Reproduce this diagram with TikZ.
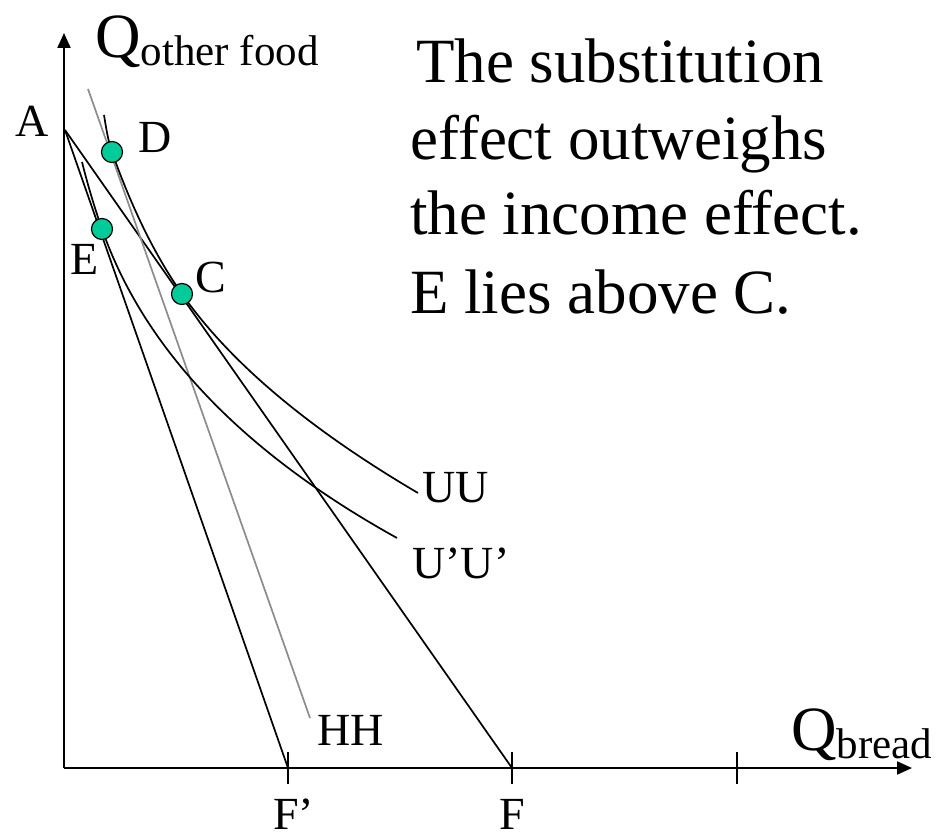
\documentclass[tikz,border=0pt]{standalone}
\usepackage{fontspec}
\setmainfont{Liberation Serif}
\usetikzlibrary{arrows.meta}
\definecolor{ptgreen}{RGB}{0,204,153}
\definecolor{hhgray}{RGB}{140,140,140}
\tikzset{
  axisline/.style={line width=2pt,-{Triangle[length=15pt,width=13pt]}},
  tickline/.style={line width=2pt},
  budget/.style={line width=1.7pt},
  compline/.style={line width=1.7pt,draw=hhgray},
  icurve/.style={line width=1.7pt},
  ptdot/.style={circle,fill=ptgreen,draw=black,line width=1.2pt,minimum size=21pt,inner sep=0pt},
  lbl/.style={font=\fontsize{46}{50}\selectfont,inner sep=0pt,anchor=base},
  bigtext/.style={font=\fontsize{63}{70}\selectfont,inner sep=0pt,anchor=base west},
}
\newcommand{\subtxt}[1]{\raisebox{-8pt}{\fontsize{43}{46}\selectfont #1}}
\begin{document}
\begin{tikzpicture}[x=1pt,y=-1pt]
\useasboundingbox (0,0) rectangle (942,834);
% coordinates
\coordinate (O) at (64,768);
\coordinate (Ytip) at (64,33);
\coordinate (Xtip) at (912,768);
\coordinate (A) at (65,130);
\coordinate (F) at (512,768);
\coordinate (Fp) at (288,768);
\coordinate (T3) at (737,768);
\coordinate (H1) at (88,89);
\coordinate (H2) at (310,718);
\coordinate (D) at (112,152);
\coordinate (C) at (182,294);
\coordinate (E) at (102,229);
\coordinate (U1s) at (104,115);
\coordinate (U1e) at (418,493);
\coordinate (U2s) at (82,162);
\coordinate (U2e) at (397,538);
% axes
\draw[axisline] (O) -- (Ytip);
\draw[axisline] (O) -- (Xtip);
\foreach \t in {Fp,F,T3}{
  \draw[tickline] ([yshift=-16pt]\t) -- ([yshift=16pt]\t);
}
% budget lines
\draw[budget] (A) -- (F);
\draw[budget] (A) -- (Fp);
% compensated budget line
\draw[compline] (H1) -- (H2);
% indifference curves
\draw[icurve] (U1s) .. controls (106,127) and (107.8,140) .. (D)
  .. controls (131.9,208.5) and (155.3,255.8) .. (C)
  .. controls (230.2,362.9) and (309.5,429.2) .. (U1e);
\draw[icurve] (U2s) .. controls (87.5,184) and (94.3,207) .. (E)
  .. controls (144.8,351.3) and (245,453.6) .. (U2e);
% points
\node[ptdot] (Dp) at (D) {};
\node[ptdot] (Cp) at (C) {};
\node[ptdot] (Ep) at (E) {};
% labels
\node[lbl] (lA) at (32.5,137) {A};
\node[lbl] (lD) at (155,153) {D};
\node[lbl] (lE) at (85,275) {E};
\node[lbl] (lC) at (211,292) {C};
\node[lbl] (lUU) at (455.5,502) {UU};
\node[lbl] (lUpUp) at (461,578) {U’U’};
\node[lbl] (lHH) at (351,745) {HH};
\node[lbl] (lFp) at (293.5,829) {F’};
\node[lbl] (lF) at (512,829) {F};
% axis titles
\node[bigtext] (qy) at (95,58) {Q\subtxt{other food}};
\node[bigtext] (qx) at (791,750) {Q\subtxt{bread}};
% text block
\node[bigtext] (t1) at (416,83) {The substitution};
\node[bigtext] (t2) at (410,160) {effect outweighs};
\node[bigtext] (t3) at (410,235) {the income effect.};
\node[bigtext] (t4) at (410,313) {E lies above C.};
\end{tikzpicture}
\end{document}
